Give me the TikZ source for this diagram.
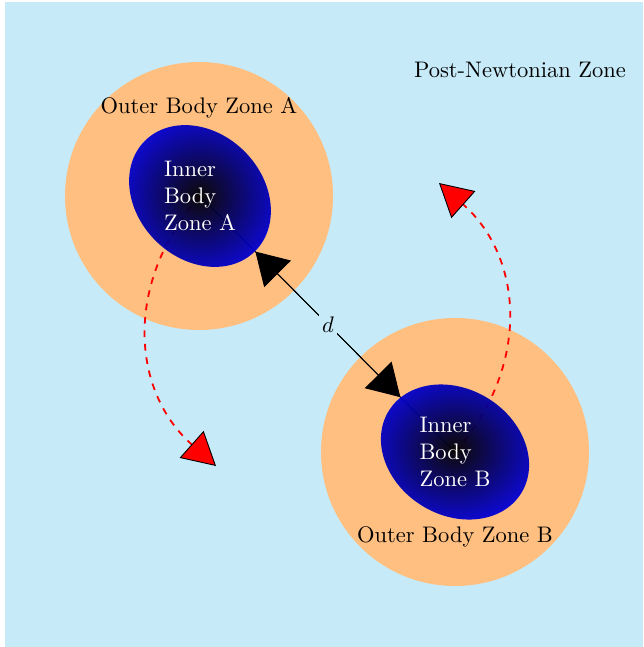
\documentclass[tikz,border=0pt]{standalone}
\usetikzlibrary{arrows.meta,shapes.geometric}
\definecolor{zonebg}{RGB}{198,234,248}
\tikzset{
  outerzone/.style={fill=orange!50, draw=none},
  innerzone/.style={ellipse, inner sep=0pt, minimum width=69.3pt, minimum height=56pt,
    shading=radial, inner color=black, outer color={rgb,255:red,0;green,0;blue,215}, opacity=0.95},
  innerlabel/.style={text=white, align=left, inner sep=0pt},
  zonelabel/.style={inner sep=0pt},
  orbit/.style={red, dashed, thick,
    -{Triangle[length=14.5pt, width=16pt, fill=red, color=black, line width=0.4pt]}},
  separation/.style={{Triangle[length=14pt, width=16.7pt]}-{Triangle[length=14pt, width=16.7pt]}},
}
\begin{document}
\begin{tikzpicture}[x=0.4444pt, y=0.4444pt]
  \useasboundingbox (0,0) rectangle (643,-647);
  % post-Newtonian region
  \fill[zonebg] (5,-2) rectangle (643,-647);
  \node[zonelabel] (pnz) at (520,-70) {Post-Newtonian Zone};

  % outer body zones
  \fill[outerzone] (199,-196) circle[radius=59.55pt];
  \fill[outerzone] (455,-452) circle[radius=59.55pt];
  \node[zonelabel] (outerA) at (199,-108) {Outer Body Zone A};
  \node[zonelabel] (outerB) at (455,-537) {Outer Body Zone B};

  % centres of the two bodies and the ends of the orbital arrows
  \coordinate (cA) at (200,-196);
  \coordinate (cB) at (455,-452);
  \coordinate (tipA) at (216,-466);
  \coordinate (tipB) at (439,-183);

  % lines running into the inner zones
  \draw (cA) -- (cB);
  \draw[orbit] (cA) to[bend right=45, looseness=1.08] (tipA);
  \draw[orbit] (cB) to[bend right=45, looseness=1.08] (tipB);

  % inner body zones
  \node[innerzone, rotate=-45] (innerA) at (cA) {};
  \node[innerzone, rotate=-32] (innerB) at (cB) {};
  \node[innerlabel] (labA) at (cA) {Inner\\Body\\Zone A};
  \node[innerlabel] (labB) at (cB) {Inner\\Body\\Zone B};

  % separation between the bodies
  \draw[separation] (innerA) -- (innerB)
    node[midway, fill=zonebg, inner sep=1.5pt] (dlab) {$d$};
\end{tikzpicture}
\end{document}
